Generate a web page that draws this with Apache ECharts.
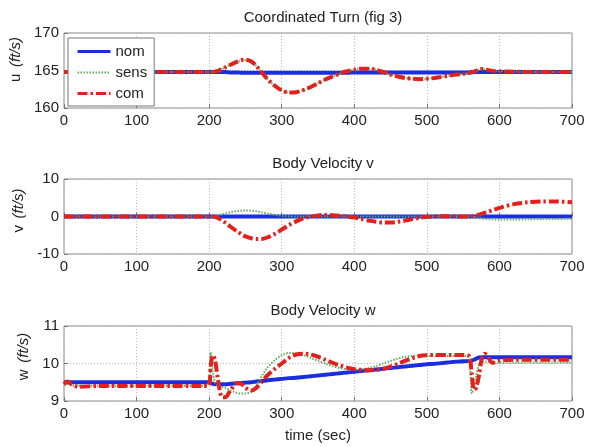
<!DOCTYPE html>
<html><head><meta charset="utf-8">
<script src="https://cdn.jsdelivr.net/npm/echarts@6/dist/echarts.min.js"></script>
<style>html,body{margin:0;padding:0;background:#fff}#c{width:594px;height:447px}</style>
</head><body><div id="c"></div>
<script>
const titles = ['Coordinated Turn (fig 3)', 'Body Velocity v', 'Body Velocity w'];
const yNames = ['u', 'v', 'w'];
const seriesNames = ['nom', 'sens', 'com'];
const xTicks = [0, 100, 200, 300, 400, 500, 600, 700];
const uTicks = [160, 165, 170];
const vTicks = [-10, 0, 10];
const wTicks = [9, 10, 11];

const t = [0,5,10,20,50,100,150,190,200,202,205,208,212,217,222,230,238,245,250,258,265,272,280,290,300,310,320,330,340,350,360,370,380,390,400,410,420,430,440,450,460,470,480,490,500,510,520,530,540,550,558,562,565,568,572,576,580,585,590,600,620,640,660,680,700];

const u_nom = [164.8,164.8,164.8,164.8,164.8,164.8,164.8,164.8,164.8,164.8,164.8,164.8,164.8,164.8,164.8,164.75,164.75,164.7,164.7,164.7,164.7,164.7,164.7,164.7,164.7,164.7,164.7,164.7,164.7,164.7,164.7,164.7,164.7,164.7,164.75,164.75,164.75,164.75,164.75,164.75,164.75,164.75,164.75,164.75,164.75,164.75,164.75,164.75,164.75,164.75,164.75,164.8,164.8,164.8,164.8,164.8,164.8,164.8,164.8,164.8,164.8,164.8,164.8,164.8,164.8];
const u_sens = [164.8,164.8,164.8,164.8,164.8,164.8,164.8,164.8,164.8,164.8,164.8,164.85,164.95,165.15,165.4,165.8,166.1,166.35,166.4,166.2,165.6,164.8,163.9,163.0,162.35,162.05,162.1,162.4,162.8,163.3,163.8,164.2,164.6,164.9,165.1,165.25,165.25,165.1,164.8,164.45,164.2,164.0,163.9,163.85,163.9,164.0,164.15,164.3,164.45,164.55,164.65,164.75,164.85,164.95,165.1,165.2,165.15,165.05,164.95,164.9,164.85,164.8,164.8,164.8,164.8];
const u_com = [164.8,164.8,164.8,164.8,164.8,164.8,164.8,164.8,164.8,164.8,164.8,164.85,164.95,165.15,165.4,165.8,166.15,166.4,166.45,166.2,165.6,164.8,163.9,163.0,162.35,162.05,162.1,162.4,162.8,163.3,163.8,164.2,164.6,164.9,165.1,165.25,165.25,165.1,164.8,164.45,164.2,164.0,163.9,163.85,163.9,164.0,164.15,164.3,164.45,164.55,164.65,164.75,164.85,164.95,165.1,165.2,165.15,165.05,164.95,164.9,164.85,164.8,164.8,164.8,164.8];

const v_nom = [0,0,0,0,0,0,0,0,0,0,0,0,0,0,0,0,0,0,0,0,0,0,0,0,0,0,0,0,0,0,0,0,0,0,0,0,0,0,0,0,0,0,0,0,0,0,0,0,0,0,0,0,0,0,0,0,0,0,0,0,0,0,0,0,0];
const v_sens = [0,0,0,0,0,0,0,0,0,0,0,0.1,0.3,0.55,0.8,1.15,1.4,1.55,1.6,1.55,1.4,1.15,0.8,0.45,0.2,0.05,0,0,0,0,0,0,0,0,0,0,0,0,0,0,0,0,0,0,0,0,0,0,0,0,0,0,-0.1,-0.2,-0.35,-0.5,-0.6,-0.7,-0.75,-0.8,-0.8,-0.75,-0.7,-0.65,-0.6];
const v_com = [0,0,0,0,0,0,0,0,0,0,0,-0.1,-0.4,-0.9,-1.6,-2.8,-3.9,-4.8,-5.3,-5.8,-6.0,-6.0,-5.6,-4.7,-3.5,-2.3,-1.3,-0.5,0.0,0.3,0.4,0.35,0.2,0.0,-0.3,-0.7,-1.1,-1.4,-1.6,-1.6,-1.4,-1.1,-0.7,-0.35,-0.1,0.05,0.1,0.1,0.05,0,0,0.05,0.15,0.3,0.5,0.75,1.0,1.3,1.65,2.3,3.3,3.8,4.0,4.0,3.8];

const w_nom = [9.5,9.5,9.5,9.5,9.5,9.5,9.5,9.5,9.5,9.48,9.46,9.45,9.45,9.45,9.45,9.46,9.47,9.48,9.49,9.5,9.52,9.53,9.55,9.57,9.59,9.61,9.62,9.64,9.66,9.68,9.7,9.72,9.74,9.76,9.78,9.8,9.82,9.84,9.86,9.88,9.9,9.92,9.94,9.96,9.98,9.99,10.01,10.03,10.05,10.06,10.07,10.08,10.1,10.13,10.16,10.17,10.17,10.17,10.17,10.17,10.17,10.17,10.17,10.17,10.17];
const w_sens = [9.42,9.45,9.42,9.4,9.4,9.4,9.4,9.4,9.5,10.3,9.8,9.5,9.4,9.38,9.35,9.28,9.22,9.2,9.2,9.25,9.4,9.65,9.88,10.08,10.22,10.28,10.27,10.22,10.15,10.07,10.0,9.93,9.88,9.85,9.84,9.85,9.88,9.93,10.0,10.07,10.13,10.18,10.2,10.21,10.2,10.2,10.2,10.2,10.2,10.2,10.15,9.2,9.35,9.7,9.98,10.05,10.05,10.04,10.03,10.02,10.02,10.02,10.02,10.02,10.02];
const w_com = [9.45,9.52,9.45,9.38,9.4,9.4,9.4,9.4,9.42,9.9,10.22,10.1,9.6,9.12,9.1,9.3,9.48,9.45,9.35,9.28,9.35,9.5,9.68,9.85,10.0,10.15,10.24,10.26,10.24,10.18,10.1,10.02,9.95,9.89,9.85,9.83,9.82,9.83,9.86,9.92,9.99,10.07,10.14,10.2,10.22,10.23,10.23,10.23,10.23,10.23,10.2,9.7,9.3,9.35,9.7,10.15,10.26,10.15,10.02,10.08,10.1,10.1,10.1,10.1,10.1];

const panels = [
  {ticks: uTicks, data: [u_nom, u_sens, u_com], shift: 22},
  {ticks: vTicks, data: [v_nom, v_sens, v_com], shift: 12},
  {ticks: wTicks, data: [w_nom, w_sens, w_com], shift: 14}
];

const FONT = 'Liberation Sans';
const tops = [33, 179, 326];
const H = 75;
const L = 64, W = 508;
const colors = ['#1a2ee0', '#5fae5f', '#e3201b'];
const lineStyles = [
  {width: 4, type: 'solid'},
  {width: 2, type: [1.5, 1.5]},
  {width: 4, type: [10, 3, 2.5, 3]}
];
const legendWidths = [3, 2, 3];

const grid = [], xAxis = [], yAxis = [], series = [], title = [];
panels.forEach((p, i) => {
  grid.push({left: L, top: tops[i], width: W, height: H, show: true, borderColor: '#8a8a8a', borderWidth: 1, backgroundColor: 'transparent'});
  title.push({text: titles[i], left: L + W / 2, top: tops[i] - 28, textAlign: 'center',
    textStyle: {fontFamily: FONT, fontSize: 15, fontWeight: 'normal', color: '#222'}});
  xAxis.push({
    type: 'value', gridIndex: i, min: xTicks[0], max: xTicks[xTicks.length - 1], interval: 100,
    axisLine: {show: false},
    axisTick: {show: true, inside: true, length: 4, lineStyle: {color: '#777'}},
    axisLabel: {fontFamily: FONT, fontSize: 15, color: '#222', margin: 5},
    splitLine: {show: true, lineStyle: {color: '#b8b8b8', type: [1, 2], width: 1}},
    name: i === 2 ? 'time (sec)' : '', nameLocation: 'middle', nameGap: 27,
    nameTextStyle: {fontFamily: FONT, fontSize: 15, color: '#222'}
  });
  yAxis.push({
    type: 'value', gridIndex: i, min: p.ticks[0], max: p.ticks[2], interval: p.ticks[1] - p.ticks[0],
    axisLine: {show: false},
    axisTick: {show: true, inside: true, length: 4, lineStyle: {color: '#777'}},
    axisLabel: {fontFamily: FONT, fontSize: 15, color: '#222', margin: 5},
    splitLine: {show: true, lineStyle: {color: '#b8b8b8', type: [1, 2], width: 1}},
    name: '{s|}{n|' + yNames[i] + '}  {i|(ft/s)}', nameLocation: 'middle', nameRotate: 90, nameGap: 32,
    nameTextStyle: {rich: {
      s: {width: p.shift},
      n: {fontFamily: FONT, fontSize: 15, color: '#222'},
      i: {fontFamily: FONT, fontSize: 15, fontStyle: 'italic', color: '#222'}
    }}
  });
  p.data.forEach((d, k) => {
    series.push({
      name: seriesNames[k], type: 'line', xAxisIndex: i, yAxisIndex: i,
      data: t.map((tt, j) => [tt, d[j]]),
      showSymbol: false, symbol: 'none', smooth: 0.3, animation: false,
      lineStyle: Object.assign({color: colors[k]}, lineStyles[k]),
      itemStyle: {color: colors[k]},
      z: 2 + k
    });
  });
});

const chart = echarts.init(document.getElementById('c'), null, {renderer: 'canvas'});
chart.setOption({
  animation: false,
  backgroundColor: '#fff',
  title, grid, xAxis, yAxis, series,
  legend: {
    show: true,
    data: seriesNames.map((n, k) => ({name: n, lineStyle: {width: legendWidths[k]}})),
    orient: 'vertical', left: 68, top: 38, z: 10,
    itemWidth: 33, itemHeight: 14, itemGap: 6,
    padding: [6, 7, 5, 8],
    itemStyle: {opacity: 0},
    backgroundColor: '#ffffff', borderColor: '#777', borderWidth: 1,
    textStyle: {fontFamily: FONT, fontSize: 15, color: '#222'},
    selectedMode: false
  }
});
</script></body></html>
